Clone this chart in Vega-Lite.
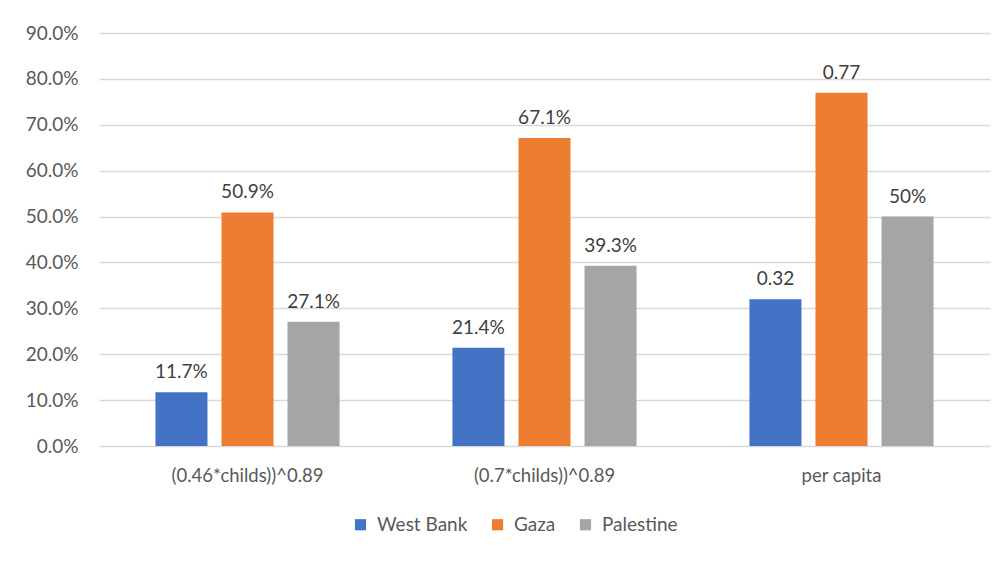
{
  "$schema": "https://vega.github.io/schema/vega-lite/v6.json",
  "width": 891,
  "height": 413,
  "autosize": {"type": "none"},
  "padding": {"left": 99, "top": 33, "right": 13, "bottom": 115},
  "background": "white",
  "config": {
    "font": "Lato",
    "view": {"stroke": null},
    "axis": {"labelFont": "Lato", "labelFontSize": 19, "labelColor": "#595959"},
    "legend": {"labelFont": "Lato", "labelFontSize": 19, "labelColor": "#595959"}
  },
  "data": {
    "values": [
      {"method": "(0.46*childs))^0.89", "region": "West Bank", "value": 0.117, "label": "11.7%"},
      {"method": "(0.46*childs))^0.89", "region": "Gaza", "value": 0.509, "label": "50.9%"},
      {"method": "(0.46*childs))^0.89", "region": "Palestine", "value": 0.271, "label": "27.1%"},
      {"method": "(0.7*childs))^0.89", "region": "West Bank", "value": 0.214, "label": "21.4%"},
      {"method": "(0.7*childs))^0.89", "region": "Gaza", "value": 0.671, "label": "67.1%"},
      {"method": "(0.7*childs))^0.89", "region": "Palestine", "value": 0.393, "label": "39.3%"},
      {"method": "per capita", "region": "West Bank", "value": 0.32, "label": "0.32"},
      {"method": "per capita", "region": "Gaza", "value": 0.77, "label": "0.77"},
      {"method": "per capita", "region": "Palestine", "value": 0.50, "label": "50%"}
    ]
  },
  "encoding": {
    "x": {
      "field": "method",
      "type": "nominal",
      "sort": null,
      "title": null,
      "scale": {"paddingInner": 0.38, "paddingOuter": 0.19},
      "axis": {"labelAngle": 0, "ticks": false, "domain": false, "labelPadding": 20, "labelFontSize": 18.5}
    },
    "xOffset": {
      "field": "region",
      "type": "nominal",
      "sort": ["West Bank", "Gaza", "Palestine"],
      "scale": {"paddingInner": 0.212, "paddingOuter": 0}
    },
    "y": {
      "field": "value",
      "type": "quantitative",
      "title": null,
      "scale": {"domain": [0, 0.9], "nice": false},
      "axis": {
        "format": ".1%",
        "values": [0, 0.1, 0.2, 0.3, 0.4, 0.5, 0.6, 0.7, 0.8, 0.9],
        "ticks": false,
        "domain": false,
        "labelPadding": 21,
        "gridColor": "#D9D9D9",
        "gridWidth": 1.5
      }
    }
  },
  "layer": [
    {
      "mark": {"type": "bar"},
      "encoding": {
        "color": {
          "field": "region",
          "type": "nominal",
          "sort": ["West Bank", "Gaza", "Palestine"],
          "scale": {"domain": ["West Bank", "Gaza", "Palestine"], "range": ["#4472C4", "#ED7D31", "#A5A5A5"]},
          "legend": {
            "title": null,
            "orient": "none",
            "direction": "horizontal",
            "legendX": 252,
            "legendY": 482,
            "symbolType": "square",
            "symbolSize": 125,
            "symbolStrokeWidth": 0,
            "symbolOpacity": 1,
            "labelOffset": 7,
            "columnPadding": 20
          }
        }
      }
    },
    {
      "mark": {"type": "text", "baseline": "bottom", "dy": -10, "fontSize": 19, "color": "#404040"},
      "encoding": {"text": {"field": "label"}}
    }
  ]
}
